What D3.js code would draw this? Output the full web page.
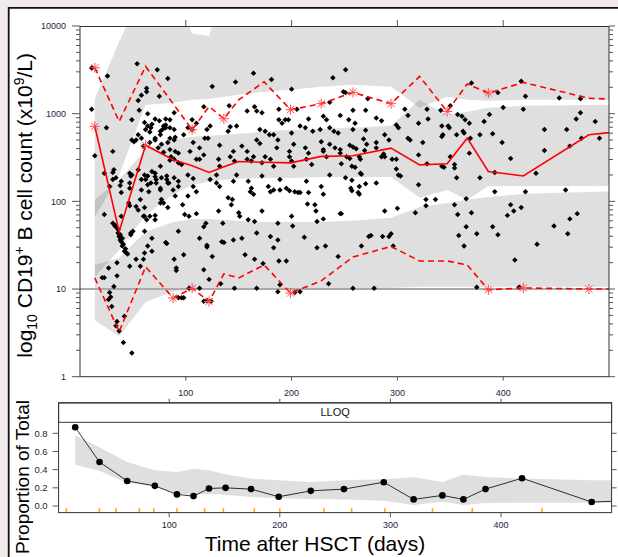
<!DOCTYPE html>
<html>
<head>
<meta charset="utf-8">
<script src="https://cdn.jsdelivr.net/npm/d3@7"></script>
<style>
  body { margin: 0; background: #f2eaea; }
  svg { display: block; font-family: "Liberation Sans", Arial, sans-serif; }
</style>
</head>
<body>
<svg id="chart" width="618" height="557"></svg>
<script>
// ---- data -------------------------------------------------------------
// time bins (days after HSCT)
const binDay = [14, 37, 62, 88, 106, 122, 136, 150, 174, 199, 228, 258, 294, 321, 347, 366, 386, 419, 481, 560];

// observed percentiles of the B cell count (x10^9/L)
const obsMedian = [718, 45, 436, 298, 254, 214, 248, 285, 279, 275, 326, 331, 405, 261, 268, 526, 219, 195, 574, 728];
const obsP95 = [3340, 815, 3460, 1300, 655, 1210, 875, 1440, 2310, 1110, 1300, 1750, 1300, 2660, 1060, 2180, 1720, 2270, 1500, 1370];
const obsP05 = [13.4, 3.26, 17.9, 7.9, 10.2, 7.2, 14.9, 13.4, 18.8, 9.0, 12.4, 23.2, 30.6, 20.9, 20.9, 18.8, 9.8, 10.3, 10.0, 10.0];
// bins where the observed percentile falls outside its prediction interval
const starMedian = [14, 62];
const starP95 = [14, 106, 136, 199, 228, 258, 294, 347, 386];
const starP05 = [88, 106, 122, 199, 386, 419, 481];

// simulated prediction intervals
const pi95Lo = [66, 200, 1260, 1330, 1440, 1480, 1560, 1640, 1780, 1880, 2030, 2140, 2030, 1170, 1560, 1440, 1400, 1440, 1440, 1440];
const pi95Hi = [1480, 6600, 30000, 30000, 8200, 7700, 30000, 30000, 30000, 30000, 30000, 30000, 30000, 30000, 30000, 30000, 30000, 30000, 30000, 30000];
const pi50Lo = [13.7, 27.9, 70, 119, 154, 167, 176, 181, 185, 185, 190, 190, 190, 110, 135, 104, 150, 150, 150, 150];
const pi50Hi = [104, 176, 387, 504, 544, 559, 574, 589, 621, 655, 672, 690, 728, 1440, 971, 1050, 1170, 1230, 1260, 1260];
const pi05Lo = [4.4, 2.9, 7.1, 9.3, 10, 10, 10, 10, 10, 10, 10, 10.3, 10.3, 10.6, 10.6, 10.6, 10.6, 10.6, 10.6, 10.6];
const pi05Hi = [18.8, 22.6, 44.9, 58.3, 63, 63, 61.5, 60, 58, 58, 58, 60, 65, 86, 96, 104, 112, 122, 128, 135];

const lloq = 10;

// observations: [day, log10 count]
const obsLog10 = [
  [11,3.52],[26,3.43],[54,3.57],[73,3.50],[83,3.40],[63,3.29],[63,3.25],[58,3.21],[55,3.15],[75,3.20],[11,3.05],[49,2.93],[64,3.00],[81,2.94],[85,2.93],[89,3.01],
  [61,2.90],[64,2.86],[62,2.82],[66,2.79],[67,2.84],[68,2.88],[71,2.94],[75,2.92],[79,2.86],[81,2.84],[76,2.80],[85,2.84],[89,2.82],
  [55,2.76],[58,2.72],[53,2.70],[51,2.68],[49,2.70],[25,2.84],[14,2.52],
  [89,2.70],[83,2.67],[77,2.65],[71,2.70],[66,2.67],[74,2.61],[85,2.59],[86,2.51],[89,2.48],
  [23,2.32],[32,2.36],[34,2.27],[39,2.23],[38,2.18],[39,2.10],[48,2.29],[47,2.32],[55,2.36],[58,2.25],[64,2.29],[67,2.21],[72,2.25],[77,2.27],[82,2.29],[83,2.21],[89,2.27],[93,2.17],
  [23,1.85],[39,1.83],[31,1.75],[33,1.73],[33,1.72],[36,1.68],[38,1.62],[38,1.56],[39,1.54],[41,1.51],[42,1.43],[44,1.41],
  [35,1.70],[37,1.60],[40,1.58],[40,1.49],[43,1.46],[45,1.40],[36,1.64],
  [48,1.64],[50,1.66],[48,1.62],[61,1.66],[53,1.94],[55,1.90],[61,1.93],[61,1.83],[66,1.83],[71,1.79],[71,1.84],[63,1.79],[60,1.83],
  [82,1.52],[68,1.43],[60,1.34],[64,1.49],[89,1.34],[91,1.24],[47,1.26],[35,1.30],[27,1.24],[21,1.13],[32,1.03],
  [28,0.96],[29,0.91],[27,0.88],[30,0.80],[35,0.63],[34,0.58],[37,0.52],[41,0.39],
  [49,0.27],[46,1.98],[47,1.95],[57,2.02],[58,2.13],[76,2.13],[77,2.02],[76,1.98],[79,1.98],[81,1.53],[83,1.93],[91,1.21],[88,2.13],[90,2.06],[68,1.58],[61,1.41],[57,1.26],[53,1.34],[42,0.69],[23,1.13],[35,1.15],
  [98,1.39],[93,1.66],[97,1.96],[99,1.85],[102,2.06],[103,1.83],[110,1.86],[113,1.58],[117,1.22],[117,1.71],[119,1.75],[120,1.50],[120,1.48],[125,1.37],[122,1.11],[117,0.86],[120,0.87],
  [93,0.90],[96,0.90],[98,0.90],[103,1.01],[113,1.01],[124,0.86],[133,1.06],[131,1.89],[135,1.75],[134,1.54],[136,1.53],[140,2.04],[144,2.02],[143,1.96],[150,1.87],[151,1.83],
  [145,1.56],[153,1.58],[156,1.39],[159,1.79],[165,1.77],[167,1.64],[165,1.34],[173,1.29],[172,1.89],[180,1.60],[183,1.47],[187,1.75],[187,1.56],[188,1.32],[189,1.05],[187,0.97],
  [195,1.32],[200,1.83],[201,1.72],[203,0.96],[208,0.97],[212,1.59],[215,1.97],[222,1.96],[223,1.89],[224,1.77],[230,1.80],[224,1.47],[232,1.49],[235,1.06],[244,1.37],[246,1.86],
  [146,1.01],[167,1.01],[189,2.13],[198,2.12],[206,2.10],
  [56,3.04],[78,2.82],[81,2.87],[76,2.76],[71,2.72],[85,2.72],[90,2.73],[60,2.63],[31,2.57],[90,2.57],[93,2.55],[79,2.56],[85,2.47],[76,2.40],[68,2.34],[71,2.32],
  [49,2.30],[31,2.33],[31,2.25],[28,2.17],[47,2.21],[47,2.15],[61,2.30],[62,2.25],[64,2.19],[65,2.11],[71,2.28],[72,2.21],[76,2.15],[82,2.25],[84,2.21],[93,2.23],
  [125,3.31],[147,3.36],[164,3.46],[181,3.39],[200,3.28],[239,3.41],[117,3.08],[141,3.09],[158,3.03],[165,3.08],[167,3.03],[172,3.01],[188,3.05],[194,2.93],[197,2.93],[205,3.05],[216,2.94],[230,2.97],[233,2.93],
  [98,2.76],[106,2.93],[110,2.89],[106,2.82],[102,2.84],[120,2.82],[121,2.72],[118,2.72],[123,2.86],[132,2.64],[140,2.80],[142,2.85],[148,2.86],[170,2.82],[175,2.80],[179,2.76],[183,2.76],
  [188,2.93],[191,2.89],[200,2.78],[208,2.86],[213,2.84],[220,2.80],[227,2.82],[240,2.80],[244,2.78],[167,2.70],[170,2.66],[187,2.70],[186,2.61],[202,2.65],[198,2.57],[228,2.68],[230,2.59],
  [213,2.61],[216,2.55],[153,2.63],[158,2.57],[104,2.57],[107,2.67],[113,2.61],[117,2.53],[113,2.48],[110,2.48],[131,2.48],[132,2.40],[129,2.30],[145,2.57],[142,2.51],[146,2.46],
  [158,2.48],[162,2.46],[164,2.51],[175,2.51],[172,2.44],[180,2.48],[183,2.40],[198,2.51],[200,2.46],[202,2.40],[214,2.48],[219,2.42],[230,2.57],[233,2.51],[241,2.61],[246,2.55],
  [93,2.44],[96,2.42],[102,2.30],[107,2.26],[107,2.17],[110,2.11],[123,2.25],[129,2.21],[132,2.17],[145,2.23],[148,2.30],[159,2.23],[162,2.15],[172,2.29],[178,2.17],[189,2.25],
  [195,2.15],[214,2.23],[216,2.10],[228,2.17],[230,2.08],[161,2.11],[164,2.08],[180,2.11],[183,2.13],[203,2.11],[208,2.10],
  [251,3.50],[249,3.25],[251,3.24],[272,3.17],[236,3.13],[246,2.98],[254,2.93],[258,3.04],[270,3.04],[258,2.82],[260,2.89],[280,2.95],[285,2.92],[270,2.81],[268,2.71],[271,2.65],
  [280,2.67],[280,2.61],[288,2.76],[292,2.70],[299,2.87],[301,2.84],[307,3.05],[310,2.98],[328,3.05],[329,2.94],[320,2.89],[341,3.04],[342,2.86],[343,2.76],[342,2.74],[348,2.86],
  [349,2.84],[350,3.09],[357,2.99],[361,2.97],[364,2.93],[368,2.89],[356,2.76],[362,2.80],[363,2.78],[370,3.35],[378,2.76],[369,2.72],[382,2.91],[387,2.99],[390,2.77],[395,3.24],
  [400,3.07],[399,2.67],[417,3.37],[421,3.20],[419,3.05],[439,2.82],[453,3.18],[460,2.82],[469,2.94],[473,3.01],[473,3.17],[487,2.91],[491,2.72],[474,2.72],[463,2.63],[439,2.58],
  [431,2.32],[407,2.49],[392,2.33],[392,2.11],[421,2.11],[459,2.13],[378,2.27],[368,2.55],[365,2.03],[356,2.27],[354,2.42],[354,2.38],[350,2.51],[342,2.40],[344,2.39],[328,2.43],
  [324,2.67],[320,2.53],[320,2.19],[327,2.02],[336,2.02],[310,2.72],[312,2.70],[301,2.30],[303,2.29],[299,2.37],[299,2.48],[295,2.48],[288,2.51],[287,2.54],[285,2.51],[269,2.58],
  [280,2.21],[270,2.20],[264,2.17],[263,2.10],[257,2.24],[256,2.15],[251,2.27],[247,2.43],[236,2.30],[236,2.65],[246,2.59],[255,2.64],[258,2.62],[261,2.60],[264,2.51],[265,2.48],
  [252,2.51],[255,2.49],[257,2.40],[260,2.39],[265,2.32],[266,2.31],[236,2.84],
  [257,2.12],[264,2.08],[247,1.86],[266,1.49],[273,1.60],[275,1.61],[288,1.89],[286,1.60],[292,1.60],[294,1.63],[296,1.49],[300,1.92],[258,1.01],[278,1.01],[317,1.87],[327,1.95],
  [354,1.96],[357,1.85],[358,1.61],[363,1.49],[365,1.71],[370,1.87],[375,1.63],[375,1.02],[390,1.71],[395,1.62],[404,1.84],[407,1.96],[410,1.89],[411,1.33],[415,1.02],[417,1.93],
  [432,1.51],[448,1.72],[461,1.63],[463,1.80],[470,1.86]
];

// proportion of samples below LLOQ
const propDay = [15, 37, 62, 87, 107, 122, 136, 151, 174, 199, 228, 258, 294, 321, 347, 366, 386, 419, 482, 560];
const propObs = [0.866, 0.484, 0.276, 0.222, 0.128, 0.109, 0.193, 0.200, 0.186, 0.102, 0.167, 0.186, 0.262, 0.073, 0.117, 0.073, 0.186, 0.306, 0.044, 0.080];
const propLo = [0.455, 0.385, 0.254, 0.218, 0.139, 0.120, 0.131, 0.120, 0.100, 0.084, 0.076, 0.073, 0.058, 0.011, 0.047, 0.011, 0.033, 0.036, 0.036, 0.036];
const propHi = [0.775, 0.647, 0.484, 0.393, 0.374, 0.410, 0.393, 0.346, 0.302, 0.284, 0.265, 0.284, 0.295, 0.320, 0.265, 0.346, 0.320, 0.302, 0.284, 0.284];
const rugDays = [7, 37, 52, 73, 86, 107, 132, 149, 177, 200, 240, 265, 295, 338, 374, 437];

const countTicks = [1, 10, 100, 1000, 10000];
const timeTicks = [100, 200, 300, 400];
const propTicks = [0, 0.2, 0.4, 0.6, 0.8];

// ---- drawing ----------------------------------------------------------
const svg = d3.select('#chart');
const txtCol = '#1d1d38';
const tickCol = '#555';

// white device region with black edge
svg.append('rect').attr('x', 8).attr('y', 7).attr('width', 620).attr('height', 560).attr('fill', '#fff');
svg.append('path').attr('d', 'M8.7,557V7.8H618').attr('fill', 'none').attr('stroke', '#111').attr('stroke-width', 1.8);

// top panel
const T = { l: 80, r: 609, t: 26, b: 376.7 };
const x1 = d3.scaleLinear().domain([0, 500]).range([T.l, T.r]);
const y1 = d3.scaleLog().domain([1, 10000]).range([T.b, T.t]);

const defs = svg.append('defs');
defs.append('clipPath').attr('id', 'clipTop').append('rect')
  .attr('x', T.l).attr('y', T.t).attr('width', T.r - T.l).attr('height', T.b - T.t);

const topG = svg.append('g').attr('clip-path', 'url(#clipTop)');

const bands = [[pi95Lo, pi95Hi], [pi50Lo, pi50Hi], [pi05Lo, pi05Hi]];
bands.forEach(([lo, hi]) => {
  const area = d3.area()
    .x((d, i) => x1(binDay[i]))
    .y0((d, i) => y1(lo[i]))
    .y1((d, i) => y1(hi[i]));
  topG.append('path').attr('d', area(binDay)).attr('fill', '#000').attr('fill-opacity', 0.125);
});

topG.append('line')
  .attr('x1', T.l).attr('x2', T.r).attr('y1', y1(lloq)).attr('y2', y1(lloq))
  .attr('stroke', '#aaa').attr('stroke-width', 2);

const diamond = d3.symbol().type(d3.symbolSquare).size(15)();
topG.selectAll('path.obs').data(obsLog10).enter().append('path')
  .attr('class', 'obs')
  .attr('d', diamond)
  .attr('transform', d => `translate(${x1(d[0])},${y1(Math.pow(10, d[1]))}) rotate(45)`)
  .attr('fill', '#000');

function pctLine(vals, dashed) {
  const line = d3.line().x((d, i) => x1(binDay[i])).y((d, i) => y1(vals[i]));
  topG.append('path').attr('d', line(binDay))
    .attr('fill', 'none').attr('stroke', '#ff0000').attr('stroke-width', 1.6)
    .attr('stroke-dasharray', dashed ? '6,4' : null);
}
pctLine(obsMedian, false);
pctLine(obsP95, true);
pctLine(obsP05, true);

function stars(days, vals) {
  const pts = days.map(d => [x1(d), y1(vals[binDay.indexOf(d)])]);
  const r = 5, q = r * 0.72;
  topG.selectAll(null).data(pts).enter().append('path')
    .attr('d', p => `M${p[0] - r},${p[1]}h${2 * r}M${p[0]},${p[1] - r}v${2 * r}` +
      `M${p[0] - q},${p[1] - q}l${2 * q},${2 * q}M${p[0] - q},${p[1] + q}l${2 * q},${-2 * q}`)
    .attr('stroke', '#ff4a4a').attr('stroke-width', 1).attr('fill', 'none');
}
stars(starMedian, obsMedian);
stars(starP95, obsP95);
stars(starP05, obsP05);

// top panel frame, ticks, labels
svg.append('rect').attr('x', T.l).attr('y', T.t + 0.5).attr('width', T.r - T.l).attr('height', T.b - T.t - 0.5)
  .attr('fill', 'none').attr('stroke', '#333').attr('stroke-width', 1);

const minor = [];
countTicks.slice(0, -1).forEach(c => { for (let k = 2; k <= 9; k++) minor.push(c * k); });
const axT = svg.append('g').attr('stroke', tickCol).attr('stroke-width', 1);
countTicks.forEach(c => {
  axT.append('line').attr('x1', T.l - 8).attr('x2', T.l).attr('y1', y1(c)).attr('y2', y1(c));
  axT.append('line').attr('x1', T.r).attr('x2', T.r + 6).attr('y1', y1(c)).attr('y2', y1(c));
});
minor.forEach(c => {
  axT.append('line').attr('x1', T.l - 4).attr('x2', T.l).attr('y1', y1(c)).attr('y2', y1(c));
  axT.append('line').attr('x1', T.r).attr('x2', T.r + 4).attr('y1', y1(c)).attr('y2', y1(c));
});
timeTicks.forEach(t => {
  axT.append('line').attr('x1', x1(t)).attr('x2', x1(t)).attr('y1', T.b).attr('y2', T.b + 4);
  axT.append('line').attr('x1', x1(t)).attr('x2', x1(t)).attr('y1', T.t).attr('y2', T.t - 6);
});
svg.append('g').selectAll('text').data(countTicks).enter().append('text')
  .attr('x', T.l - 14).attr('y', d => y1(d)).attr('dy', '0.35em')
  .attr('text-anchor', 'end').attr('font-size', 9).attr('fill', txtCol).text(d => d);
svg.append('g').selectAll('text').data(timeTicks).enter().append('text')
  .attr('x', d => x1(d)).attr('y', 396)
  .attr('text-anchor', 'middle').attr('font-size', 9).attr('fill', txtCol).text(d => d);

// y title of top panel
const yt = svg.append('text')
  .attr('transform', `translate(32,${(T.t + T.b) / 2 + 4}) rotate(-90)`)
  .attr('text-anchor', 'middle').attr('font-size', 21).attr('fill', '#000');
yt.append('tspan').text('log');
yt.append('tspan').attr('font-size', 14).attr('dy', 5).text('10');
yt.append('tspan').attr('dy', -5).text(' CD19');
yt.append('tspan').attr('font-size', 14).attr('dy', -8).text('+');
yt.append('tspan').attr('dy', 8).text(' B cell count (x10');
yt.append('tspan').attr('font-size', 14).attr('dy', -8).text('9');
yt.append('tspan').attr('dy', 8).text('/L)');

// bottom panel
const B = { l: 58.6, r: 611.6, t: 402.7, s: 422.3, b: 512.3 };
const x2 = d3.scaleLinear().domain([0, 500]).range([B.l, B.r]);
const y2 = d3.scaleLinear().domain([-0.069, 0.921]).range([B.b, B.s]);

defs.append('clipPath').attr('id', 'clipBot').append('rect')
  .attr('x', B.l).attr('y', B.s).attr('width', B.r - B.l).attr('height', B.b - B.s);
const botG = svg.append('g').attr('clip-path', 'url(#clipBot)');

const pArea = d3.area()
  .x((d, i) => x2(propDay[i]))
  .y0((d, i) => y2(propLo[i]))
  .y1((d, i) => y2(propHi[i]));
botG.append('path').attr('d', pArea(propDay)).attr('fill', '#000').attr('fill-opacity', 0.125);

botG.selectAll('line.rug').data(rugDays).enter().append('line')
  .attr('x1', d => x2(d)).attr('x2', d => x2(d)).attr('y1', B.b - 4).attr('y2', B.b)
  .attr('stroke', '#ffa500').attr('stroke-width', 1.5);

const pLine = d3.line().x((d, i) => x2(propDay[i])).y((d, i) => y2(propObs[i]));
botG.append('path').attr('d', pLine(propDay)).attr('fill', 'none').attr('stroke', '#000').attr('stroke-width', 0.8);
botG.selectAll('circle').data(propDay).enter().append('circle')
  .attr('cx', d => x2(d)).attr('cy', (d, i) => y2(propObs[i])).attr('r', 3.3).attr('fill', '#000');

// strip
svg.append('rect').attr('x', B.l).attr('y', B.t).attr('width', B.r - B.l).attr('height', B.s - B.t)
  .attr('fill', '#fff').attr('stroke', '#333').attr('stroke-width', 1);
svg.append('text').attr('x', (B.l + B.r) / 2).attr('y', 416)
  .attr('text-anchor', 'middle').attr('font-size', 11).attr('fill', '#111').text('LLOQ');

svg.append('rect').attr('x', B.l).attr('y', B.t + 0.3).attr('width', B.r - B.l).attr('height', B.b - B.t)
  .attr('fill', 'none').attr('stroke', '#333').attr('stroke-width', 1);

const axB = svg.append('g').attr('stroke', tickCol).attr('stroke-width', 1);
timeTicks.forEach(t => {
  axB.append('line').attr('x1', x2(t)).attr('x2', x2(t)).attr('y1', B.b).attr('y2', B.b + 5);
  axB.append('line').attr('x1', x2(t)).attr('x2', x2(t)).attr('y1', B.t).attr('y2', B.t - 4);
});
propTicks.forEach(p => {
  axB.append('line').attr('x1', B.l - 6).attr('x2', B.l).attr('y1', y2(p)).attr('y2', y2(p));
  axB.append('line').attr('x1', B.r).attr('x2', B.r + 5).attr('y1', y2(p)).attr('y2', y2(p));
});
svg.append('g').selectAll('text').data(timeTicks).enter().append('text')
  .attr('x', d => x2(d)).attr('y', 528)
  .attr('text-anchor', 'middle').attr('font-size', 9).attr('fill', txtCol).text(d => d);
svg.append('g').selectAll('text').data(propTicks).enter().append('text')
  .attr('x', B.l - 11).attr('y', d => y2(d)).attr('dy', '0.35em')
  .attr('text-anchor', 'end').attr('font-size', 9.5).attr('fill', txtCol).text(d => d3.format('.1f')(d));

svg.append('text')
  .attr('transform', `translate(28.5,477) rotate(-90)`)
  .attr('text-anchor', 'middle').attr('font-size', 19).attr('fill', '#000').text('Proportion of Total');
svg.append('text').attr('x', 315).attr('y', 550.5)
  .attr('text-anchor', 'middle').attr('font-size', 21).attr('fill', '#000').text('Time after HSCT (days)');
</script>
</body>
</html>
